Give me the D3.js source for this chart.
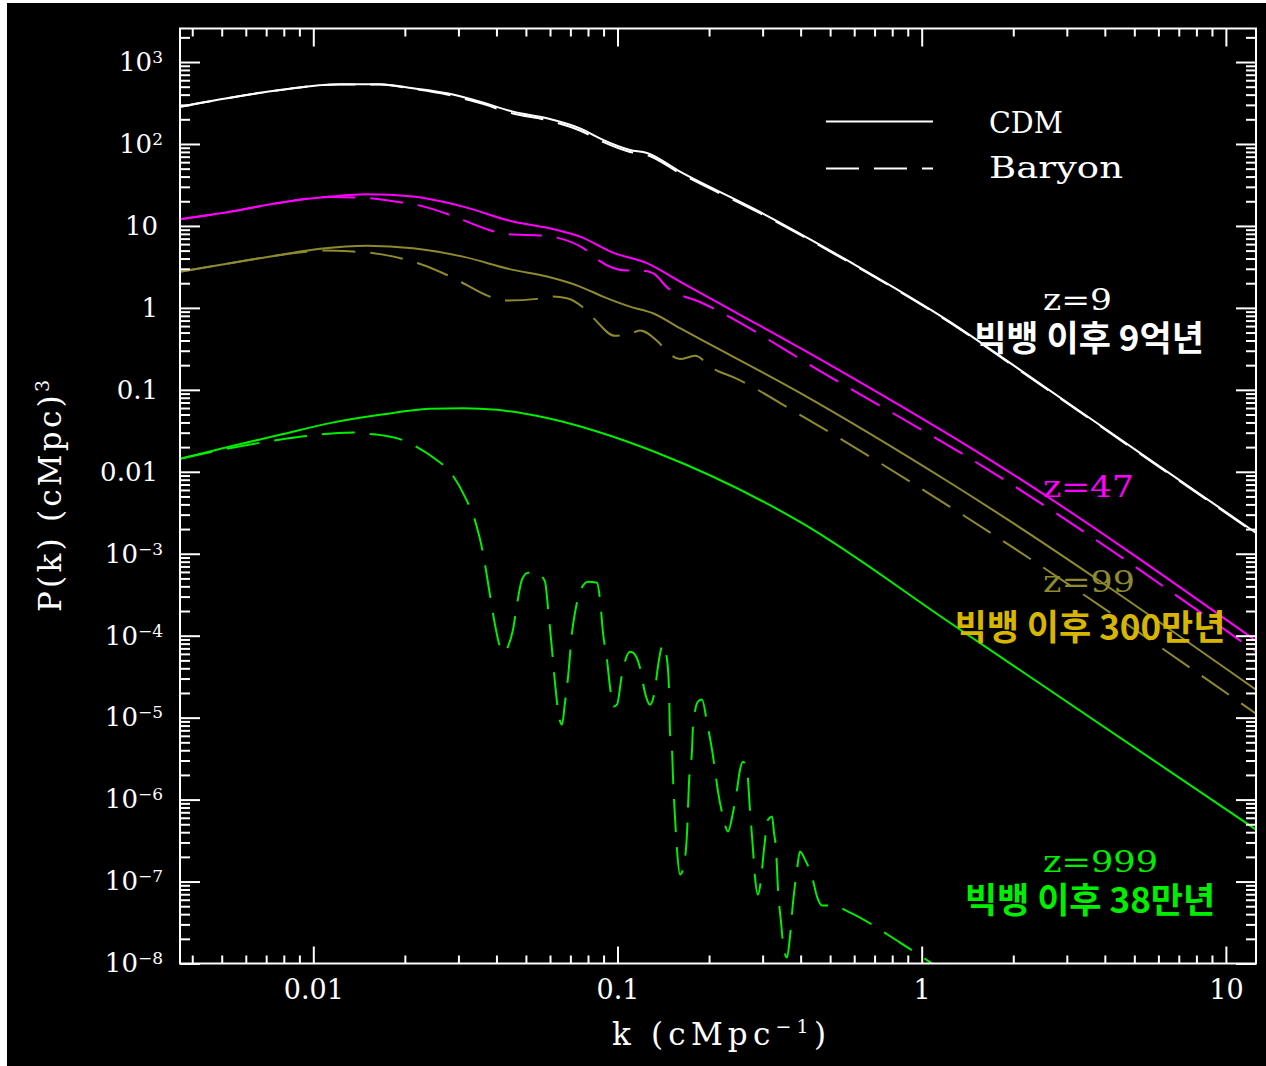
<!DOCTYPE html>
<html><head><meta charset="utf-8">
<script src="https://cdn.jsdelivr.net/npm/d3@7"></script>
<style>body{margin:0;background:#fff}</style>
</head><body>
<svg id="c" width="1266" height="1066"></svg>
<script>
// ---------------- DATA ----------------
const kMin = 0.003646, kMax = 12.56;
const pMin = 1e-8, pMax = 2565;

const kTickVals = [0.01, 0.1, 1, 10];
const kTickLabels = ["0.01", "0.1", "1", "10"];
const pTickVals = [1e3, 1e2, 10, 1, 0.1, 0.01, 1e-3, 1e-4, 1e-5, 1e-6, 1e-7, 1e-8];
const pTickBase = ["10", "10", "10", "1", "0.1", "0.01", "10", "10", "10", "10", "10", "10"];
const pTickExp  = ["3", "2", "", "", "", "", "\u22123", "\u22124", "\u22125", "\u22126", "\u22127", "\u22128"];

// z = 9
const k_z9 = [0.003646, 0.005323, 0.007774, 0.01224, 0.01657, 0.02127, 0.02751, 0.03532, 0.04534, 0.05864, 0.07529, 0.0896, 0.1099, 0.125, 0.1605, 0.294, 0.581, 1.239, 2.105, 5.63, 12.56];
const P_cdm_z9 = [285, 367, 456, 535, 535, 478, 415, 328, 248, 206, 155, 112, 84.5, 77.6, 45.9, 14.8, 3.64, 0.675, 0.1754, 0.014, 0.0018];
const P_bar_z9 = [285, 367, 456, 533, 530, 470, 400, 315, 236, 196, 146, 106, 80, 73.5, 44, 14.3, 3.55, 0.66, 0.172, 0.0137, 0.00176];

// z = 47
const k_cdm_z47 = [0.003646, 0.005323, 0.007774, 0.01135, 0.01502, 0.02127, 0.03104, 0.04534, 0.06325, 0.07529, 0.09665, 0.125, 0.1605, 0.4994, 1.677, 12.56];
const P_cdm_z47 = [12.08, 14.9, 19.2, 22.8, 24.4, 22.8, 17.2, 11.3, 8.94, 7.41, 4.72, 3.51, 2.09, 0.2018, 0.014, 8.69e-5];
const k_bar_z47 = [0.003646, 0.005323, 0.007774, 0.01135, 0.01537, 0.01972, 0.02243, 0.02814, 0.03104, 0.03957, 0.04365, 0.05689, 0.06325, 0.07937, 0.08629, 0.1075, 0.1203, 0.1308, 0.1466, 0.1867, 0.4994, 1.677, 12.56];
const P_bar_z47 = [12.08, 14.9, 19.2, 22.6, 21.8, 19.2, 17.7, 13.6, 11.8, 8.52, 7.92, 7.62, 7.2, 5.0, 3.85, 2.85, 2.85, 2.65, 1.74, 1.18, 0.144, 0.01028, 6.38e-5];

// z = 99
const k_cdm_z99 = [0.003646, 0.005323, 0.007774, 0.01052, 0.01502, 0.02127, 0.03104, 0.04534, 0.05864, 0.07529, 0.0896, 0.1099, 0.1308, 0.1605, 0.398, 1.239, 12.56];
const P_cdm_z99 = [2.77, 3.51, 4.43, 5.25, 5.75, 5.35, 4.22, 2.91, 2.41, 1.82, 1.374, 1.037, 0.861, 0.565, 0.0918, 0.00735, 2.19e-5];
const k_bar_z99 = [0.003646, 0.005323, 0.007774, 0.01076, 0.01351, 0.01537, 0.01972, 0.0221, 0.02751, 0.03081, 0.03752, 0.04267, 0.05436, 0.06091, 0.06823, 0.07642, 0.08308, 0.09813, 0.1099, 0.1186, 0.1358, 0.1466, 0.1605, 0.1799, 0.2045, 0.2433, 0.398, 1.239, 12.56];
const P_bar_z99 = [2.77, 3.51, 4.43, 5.0, 4.86, 4.72, 3.96, 3.51, 2.52, 2.04, 1.40, 1.227, 1.288, 1.374, 1.313, 1.037, 0.762, 0.456, 0.482, 0.528, 0.388, 0.285, 0.237, 0.26, 0.185, 0.14, 0.0495, 0.00374, 1.12e-5];

// z = 999
const k_cdm_z999 = [0.003646, 0.005323, 0.007774, 0.01135, 0.01657, 0.02418, 0.03104, 0.04017, 0.05864, 0.08564, 0.1348, 0.398, 1.239, 12.56];
const P_cdm_z999 = [0.01442, 0.02037, 0.02826, 0.03926, 0.0495, 0.0586, 0.0598, 0.057, 0.0452, 0.031, 0.01706, 0.00245, 1.44e-4, 4.3e-7];
const k_bar_z999 = [0.003646, 0.00668, 0.00904, 0.01068, 0.01351, 0.01537, 0.01957, 0.02193, 0.02512, 0.02814, 0.03152, 0.03426, 0.03612, 0.03752, 0.03957, 0.04109, 0.04267, 0.04365, 0.04534, 0.04672, 0.04853, 0.05078, 0.05436, 0.05777, 0.0591, 0.06091, 0.06231, 0.06422, 0.0657, 0.0672, 0.06875, 0.07087, 0.07249, 0.07529, 0.07998, 0.08564, 0.08761, 0.0896, 0.09236, 0.09447, 0.09665, 0.09963, 0.1034, 0.1099, 0.1125, 0.1186, 0.1231, 0.1279, 0.1328, 0.1358, 0.1411, 0.1455, 0.1477, 0.1488, 0.1511, 0.1522, 0.1545, 0.1569, 0.1605, 0.1642, 0.1693, 0.1718, 0.1758, 0.1771, 0.1839, 0.1896, 0.1969, 0.2045, 0.2091, 0.214, 0.2223, 0.2308, 0.2397, 0.2471, 0.2528, 0.2587, 0.2665, 0.2726, 0.2789, 0.2831, 0.2896, 0.2963, 0.3031, 0.3126, 0.3221, 0.327, 0.332, 0.3371, 0.3449, 0.35, 0.3608, 0.369, 0.3776, 0.3891, 0.398, 0.4135, 0.4359, 0.4528, 0.4703, 0.5111, 0.5726, 0.8486, 1.106];
const P_bar_z999 = [0.01442, 0.0226, 0.0267, 0.0288, 0.0301, 0.029, 0.0245, 0.02, 0.01442, 0.01, 0.00495, 0.00232, 0.00103, 4.43e-4, 1.36e-4, 7.35e-5, 6.21e-5, 7.35e-5, 1.18e-4, 2.39e-4, 4.82e-4, 5.86e-4, 5.86e-4, 4.56e-4, 2.19e-4, 6.75e-5, 2.67e-5, 1.03e-5, 8.22e-6, 1.52e-5, 3.08e-5, 1.09e-4, 1.91e-4, 3.44e-4, 4.56e-4, 4.43e-4, 2.75e-4, 1.09e-4, 5.09e-5, 2.39e-5, 1.36e-5, 1.44e-5, 3.34e-5, 6.38e-5, 6.21e-5, 4.07e-5, 2.02e-5, 1.44e-5, 2.19e-5, 4.19e-5, 7.77e-5, 5.09e-5, 2.19e-5, 6.56e-6, 4.07e-6, 1.9e-6, 6.21e-7, 2.45e-7, 1.22e-7, 1.4e-7, 3.96e-7, 1.61e-6, 4.07e-6, 7.77e-6, 1.57e-5, 1.66e-5, 8.69e-6, 4.07e-6, 2.32e-6, 1.25e-6, 6.21e-7, 4.07e-7, 6.93e-7, 1.32e-6, 2.32e-6, 2.9e-6, 2.32e-6, 7.55e-7, 2.45e-7, 1.15e-7, 6.93e-8, 1.06e-7, 2.45e-7, 5.7e-7, 6.21e-7, 3.96e-7, 2.45e-7, 7.98e-8, 3.16e-8, 1.8e-8, 1.18e-8, 2.13e-8, 5.55e-8, 1.4e-7, 2.32e-7, 1.85e-7, 1.15e-7, 6.56e-8, 5.09e-8, 5.09e-8, 4.3e-8, 1.8e-8, 9.45e-9];

const legendLabels = ["CDM", "Baryon"];
const zLabels = ["z=9", "z=47", "z=99", "z=999"];
const ageLabels = ["빅뱅 이후 9억년", "빅뱅 이후 300만년", "빅뱅 이후 38만년"];

// ---------------- DRAW ----------------
const svg = d3.select("#c");
svg.append("rect").attr("x", 7).attr("y", 3).attr("width", 1259).attr("height", 1063).attr("fill", "#000");

const L = 180, R = 1256, T = 28.5, B = 963.5;
const x = d3.scaleLog().domain([kMin, kMax]).range([L, R]);
const y = d3.scaleLog().domain([pMin, pMax]).range([B, T]);

const WHITE = "#ffffff", MAG = "#ff00ff", OLIVE = "#8d8a30", GREEN = "#00ee00", GOLD = "#d6b600";
const SERIF = "'DejaVu Serif', serif", KR = "'Noto Sans CJK KR', sans-serif";

svg.append("clipPath").attr("id", "clip").append("rect").attr("x", L).attr("y", T).attr("width", R - L).attr("height", B - T);

const series = [
  {k: k_cdm_z999, p: P_cdm_z999, c: GREEN, dash: null},
  {k: k_bar_z999, p: P_bar_z999, c: GREEN, dash: "33,15"},
  {k: k_cdm_z99, p: P_cdm_z99, c: OLIVE, dash: null},
  {k: k_bar_z99, p: P_bar_z99, c: OLIVE, dash: "33,15"},
  {k: k_cdm_z47, p: P_cdm_z47, c: MAG, dash: null},
  {k: k_bar_z47, p: P_bar_z47, c: MAG, dash: "33,15"},
  {k: k_z9, p: P_bar_z9, c: WHITE, dash: "33,15"},
  {k: k_z9, p: P_cdm_z9, c: WHITE, dash: null},
];
const line = d3.line().x(d => x(d[0])).y(d => y(d[1])).curve(d3.curveMonotoneX);
const gLines = svg.append("g").attr("clip-path", "url(#clip)");
series.forEach(s => {
  gLines.append("path").datum(s.k.map((kk, i) => [kk, s.p[i]]))
    .attr("d", line).attr("fill", "none").attr("stroke", s.c)
    .attr("stroke-width", 2).attr("stroke-dasharray", s.dash);
});

// ticks
function isMajor(v) { const l = Math.log10(v); return Math.abs(l - Math.round(l)) < 1e-6; }
function ticksIn(dom) {
  const out = [];
  for (let e = -9; e <= 4; e++) for (let m = 1; m <= 9; m++) {
    const v = m * Math.pow(10, e);
    if (v >= dom[0] * 0.9999 && v <= dom[1] * 1.0001) out.push(v);
  }
  return out;
}
const kAll = ticksIn([kMin, kMax]);
const pAll = ticksIn([pMin, pMax]);

function styleTicks(g) {
  g.select(".domain").remove();
  g.selectAll(".tick line").attr("stroke", WHITE).attr("stroke-width", 2);
}
const gB = svg.append("g").attr("transform", `translate(0,${B})`)
  .call(d3.axisTop(x).tickValues(kAll).tickFormat("").tickSizeOuter(0));
styleTicks(gB); gB.selectAll(".tick line").attr("y2", d => isMajor(d) ? -17 : -8);
const gT = svg.append("g").attr("transform", `translate(0,${T})`)
  .call(d3.axisBottom(x).tickValues(kAll).tickFormat("").tickSizeOuter(0));
styleTicks(gT); gT.selectAll(".tick line").attr("y2", d => isMajor(d) ? 18 : 8);
const gLt = svg.append("g").attr("transform", `translate(${L},0)`)
  .call(d3.axisRight(y).tickValues(pAll).tickFormat("").tickSizeOuter(0));
styleTicks(gLt); gLt.selectAll(".tick line").attr("x2", d => isMajor(d) ? 20 : 10);
const gRt = svg.append("g").attr("transform", `translate(${R},0)`)
  .call(d3.axisLeft(y).tickValues(pAll).tickFormat("").tickSizeOuter(0));
styleTicks(gRt); gRt.selectAll(".tick line").attr("x2", d => isMajor(d) ? -20 : -10);

// frame
svg.append("rect").attr("x", L).attr("y", T).attr("width", R - L).attr("height", B - T)
  .attr("fill", "none").attr("stroke", WHITE).attr("stroke-width", 2);

// x tick labels
const gXL = svg.append("g").attr("transform", `translate(0,${B})`)
  .call(d3.axisBottom(x).tickValues(kTickVals).tickSize(0).tickPadding(16.5).tickFormat((d, i) => kTickLabels[i]));
gXL.select(".domain").remove();
gXL.attr("font-family", SERIF).attr("font-size", 27);
gXL.selectAll(".tick text").attr("fill", WHITE);

// y tick labels
const gYL = svg.append("g").attr("transform", `translate(${L},0)`)
  .call(d3.axisLeft(y).tickValues(pTickVals).tickSize(0).tickPadding(0).tickFormat((d, i) => pTickBase[i]));
gYL.select(".domain").remove();
gYL.attr("font-family", SERIF).attr("font-size", 26);
gYL.selectAll(".tick text").attr("fill", WHITE)
  .attr("x", (d, i) => pTickExp[i] ? -17 : -22)
  .each(function (d, i) {
    if (pTickExp[i]) d3.select(this).append("tspan").attr("dy", -8).attr("font-size", 17).text(pTickExp[i]);
  });

// axis titles
const xt = svg.append("text").attr("x", 612).attr("y", 1045).attr("fill", WHITE)
  .attr("font-family", SERIF).attr("font-size", 31).attr("textLength", 214).attr("lengthAdjust", "spacing");
xt.append("tspan").text("k  (cMpc");
xt.append("tspan").attr("dy", -12).attr("font-size", 19).text("\u22121");
xt.append("tspan").attr("dy", 12).text(")");

const yt = svg.append("text").attr("transform", "translate(61,496) rotate(-90)").attr("text-anchor", "middle")
  .attr("fill", WHITE).attr("font-family", SERIF).attr("font-size", 31).attr("textLength", 232).attr("lengthAdjust", "spacing");
yt.append("tspan").text("P(k)  (cMpc)");
yt.append("tspan").attr("dy", -12).attr("font-size", 19).text("3");

// legend
svg.append("line").attr("x1", 826).attr("x2", 933).attr("y1", 121.5).attr("y2", 121.5).attr("stroke", WHITE).attr("stroke-width", 2);
svg.append("line").attr("x1", 826).attr("x2", 933).attr("y1", 168.5).attr("y2", 168.5).attr("stroke", WHITE).attr("stroke-width", 2).attr("stroke-dasharray", "33,15");
const legPos = [[989, 133, 74], [989, 178, 134]];
legendLabels.forEach((t, i) => {
  svg.append("text").attr("x", legPos[i][0]).attr("y", legPos[i][1]).attr("fill", WHITE)
    .attr("font-family", SERIF).attr("font-size", 29)
    .attr("textLength", legPos[i][2]).attr("lengthAdjust", "spacingAndGlyphs").text(t);
});

// annotations
const zPos = [[1043, 310, 69, WHITE], [1043, 497, 91, MAG], [1043, 592, 92, OLIVE], [1043, 872, 115, GREEN]];
zLabels.forEach((t, i) => {
  svg.append("text").attr("x", zPos[i][0]).attr("y", zPos[i][1]).attr("fill", zPos[i][3])
    .attr("font-family", SERIF).attr("font-size", 29)
    .attr("textLength", zPos[i][2]).attr("lengthAdjust", "spacingAndGlyphs").text(t);
});
const agePos = [[1089, 351, WHITE], [1090, 640, GOLD], [1090, 913, GREEN]];
ageLabels.forEach((t, i) => {
  svg.append("text").attr("x", agePos[i][0]).attr("y", agePos[i][1]).attr("fill", agePos[i][2])
    .attr("text-anchor", "middle").attr("font-family", KR).attr("font-weight", 700).attr("font-size", 35).text(t);
});
</script>
</body></html>
